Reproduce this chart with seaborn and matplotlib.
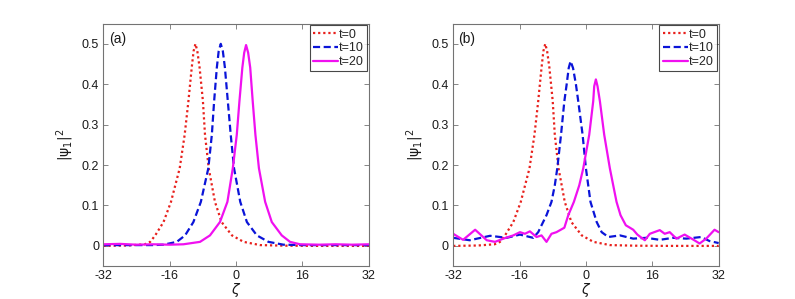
import matplotlib
matplotlib.use("Agg")
import matplotlib.pyplot as plt
import seaborn as sns

# t=0 profile (same initial condition in both panels)
x_t0 = [-32, -26, -22, -20.7, -19.5, -17.5, -15.7, -13.6, -12.4, -11.5, -10.7, -10.25, -9.8,
        -9.35, -8.8, -8.0, -7.5, -6.6, -5.1, -3.5, -1.0, 1.8, 5.8, 12, 20, 32]
y_t0 = [0.0, 0.001, 0.004, 0.010, 0.026, 0.059, 0.109, 0.192, 0.275, 0.358, 0.441, 0.482, 0.500,
        0.482, 0.441, 0.358, 0.275, 0.192, 0.109, 0.059, 0.026, 0.010, 0.002, 0.0005, 0.0, 0.0]

# panel (a)
xa_t10 = [-32, -24, -20, -17.5, -14.3, -12.3, -10.3, -8.5, -6.7, -5.85, -5.3, -4.65, -4.2, -3.7,
          -3.2, -2.7, -2.0, -1.3, -0.5, 1.0, 2.6, 5.0, 7.8, 11.4, 16, 24, 32]
ya_t10 = [0.002, 0.002, 0.002, 0.003, 0.010, 0.026, 0.059, 0.109, 0.192, 0.275, 0.358, 0.441, 0.482,
          0.500, 0.482, 0.441, 0.358, 0.275, 0.192, 0.109, 0.059, 0.026, 0.010, 0.003, 0.002, 0.002, 0.002]
xa_t20 = [-32, -28, -24, -20, -16, -12.7, -8.7, -6.3, -3.9, -2.1, -0.8, 0.16, 0.8, 1.5, 1.95, 2.4,
          2.9, 3.4, 4.0, 4.65, 5.5, 7.0, 8.6, 11.0, 13.0, 15.4, 20, 24, 28, 32]
ya_t20 = [0.004, 0.005, 0.003, 0.004, 0.003, 0.004, 0.010, 0.026, 0.059, 0.109, 0.192, 0.275, 0.358,
          0.441, 0.478, 0.497, 0.478, 0.441, 0.358, 0.275, 0.192, 0.109, 0.059, 0.026, 0.010, 0.004,
          0.003, 0.004, 0.003, 0.004]

# panel (b)
xb_t10 = [-32, -28, -23.1, -19.1, -15.9, -12.7, -11.5, -10.7, -9.5, -8.3, -7.5, -6.9, -6.0, -5.2,
          -4.65, -4.15, -3.7, -3.1, -2.4, -1.85, -0.8, 0.0, 1.1, 2.6, 3.8, 5.4, 8.2, 11.4, 14.6,
          17.8, 21.0, 24.2, 27.8, 29.8, 32]
yb_t10 = [0.020, 0.014, 0.025, 0.020, 0.028, 0.020, 0.034, 0.051, 0.076, 0.109, 0.150, 0.192, 0.275,
          0.358, 0.399, 0.440, 0.457, 0.440, 0.399, 0.358, 0.275, 0.192, 0.109, 0.059, 0.034, 0.022,
          0.026, 0.018, 0.020, 0.015, 0.020, 0.018, 0.022, 0.012, 0.007]
xb_t20 = [-32, -29.6, -26.7, -23.9, -21.9, -19.9, -17.5, -15.9, -14.7, -13.5, -11.9, -10.7, -9.5,
          -8.3, -7.1, -5.2, -4.25, -2.9, -1.6, -0.64, 0.8, 1.76, 2.0, 2.4, 2.8, 3.37, 4.41, 5.77,
          6.58, 7.38, 8.34, 9.62, 10.6, 11.4, 12.4, 14.2, 15.4, 17.8, 19.0, 20.2, 21.8, 23.8, 25.8,
          27.4, 29.0, 31.0, 32]
yb_t20 = [0.030, 0.015, 0.040, 0.014, 0.010, 0.018, 0.026, 0.034, 0.030, 0.036, 0.022, 0.026, 0.010,
          0.030, 0.034, 0.045, 0.076, 0.109, 0.150, 0.192, 0.275, 0.358, 0.395, 0.412, 0.395, 0.358,
          0.275, 0.192, 0.150, 0.109, 0.076, 0.051, 0.045, 0.040, 0.028, 0.014, 0.030, 0.039, 0.030,
          0.034, 0.018, 0.028, 0.016, 0.006, 0.018, 0.040, 0.034]

labels = ["t=0", "t=10", "t=20"]
xticks = [-32, -16, 0, 16, 32]
yticks = [0, 0.1, 0.2, 0.3, 0.4, 0.5]

sns.set_style("ticks")
plt.rcParams["font.family"] = ["Liberation Sans", "DejaVu Sans"]
plt.rcParams["mathtext.fontset"] = "dejavusans"

fig = plt.figure(figsize=(7.95, 2.99), dpi=100)
ax_a = fig.add_axes([0.130, 0.110, 0.334, 0.811])
ax_b = fig.add_axes([0.570, 0.110, 0.334, 0.811])

panels = [
    (ax_a, "(a)", [(x_t0, y_t0), (xa_t10, ya_t10), (xa_t20, ya_t20)]),
    (ax_b, "(b)", [(x_t0, y_t0), (xb_t10, yb_t10), (xb_t20, yb_t20)]),
]
colors = ["#e8201c", "#0a14d8", "#f010f0"]
styles = [(0, (1, 1.3)), (0, (3.2, 1.6)), "-"]

for ax, tag, curves in panels:
    for (xs, ys), lab, c, ls in zip(curves, labels, colors, styles):
        sns.lineplot(x=xs, y=ys, ax=ax, color=c, linestyle=ls, linewidth=1.6,
                     label=lab, sort=False)
    ax.set_xlim(-32, 32)
    ax.set_ylim(-0.05, 0.55)
    ax.set_xticks(xticks)
    ax.set_xticklabels([str(t) for t in xticks])
    ax.set_yticks(yticks)
    ax.set_yticklabels(["0", "0.1", "0.2", "0.3", "0.4", "0.5"])
    ax.tick_params(direction="in", top=True, right=True, length=3.5, width=0.6,
                   colors="0.45", labelcolor="0.1", labelsize=9, pad=3)
    for sp in ax.spines.values():
        sp.set_visible(True)
        sp.set_color("0.45")
        sp.set_linewidth(0.8)
    ax.set_xlabel(r"$\zeta$", fontsize=10, color="0.1", labelpad=-1)
    ax.set_ylabel(r"$|\mathrm{\psi}_1|^2$", fontsize=10, color="0.1", labelpad=4)
    ax.text(0.02, 0.965, tag, transform=ax.transAxes, ha="left", va="top",
            fontsize=10, color="0.1")
    leg = ax.legend(loc="upper right", fontsize=9, frameon=True, fancybox=False,
                    handlelength=2.0, handletextpad=0.1, borderpad=0.25,
                    labelspacing=0.15, borderaxespad=0.15)
    leg.get_frame().set_edgecolor("0.1")
    leg.get_frame().set_linewidth(0.8)

fig.savefig("out.png", dpi=100)
